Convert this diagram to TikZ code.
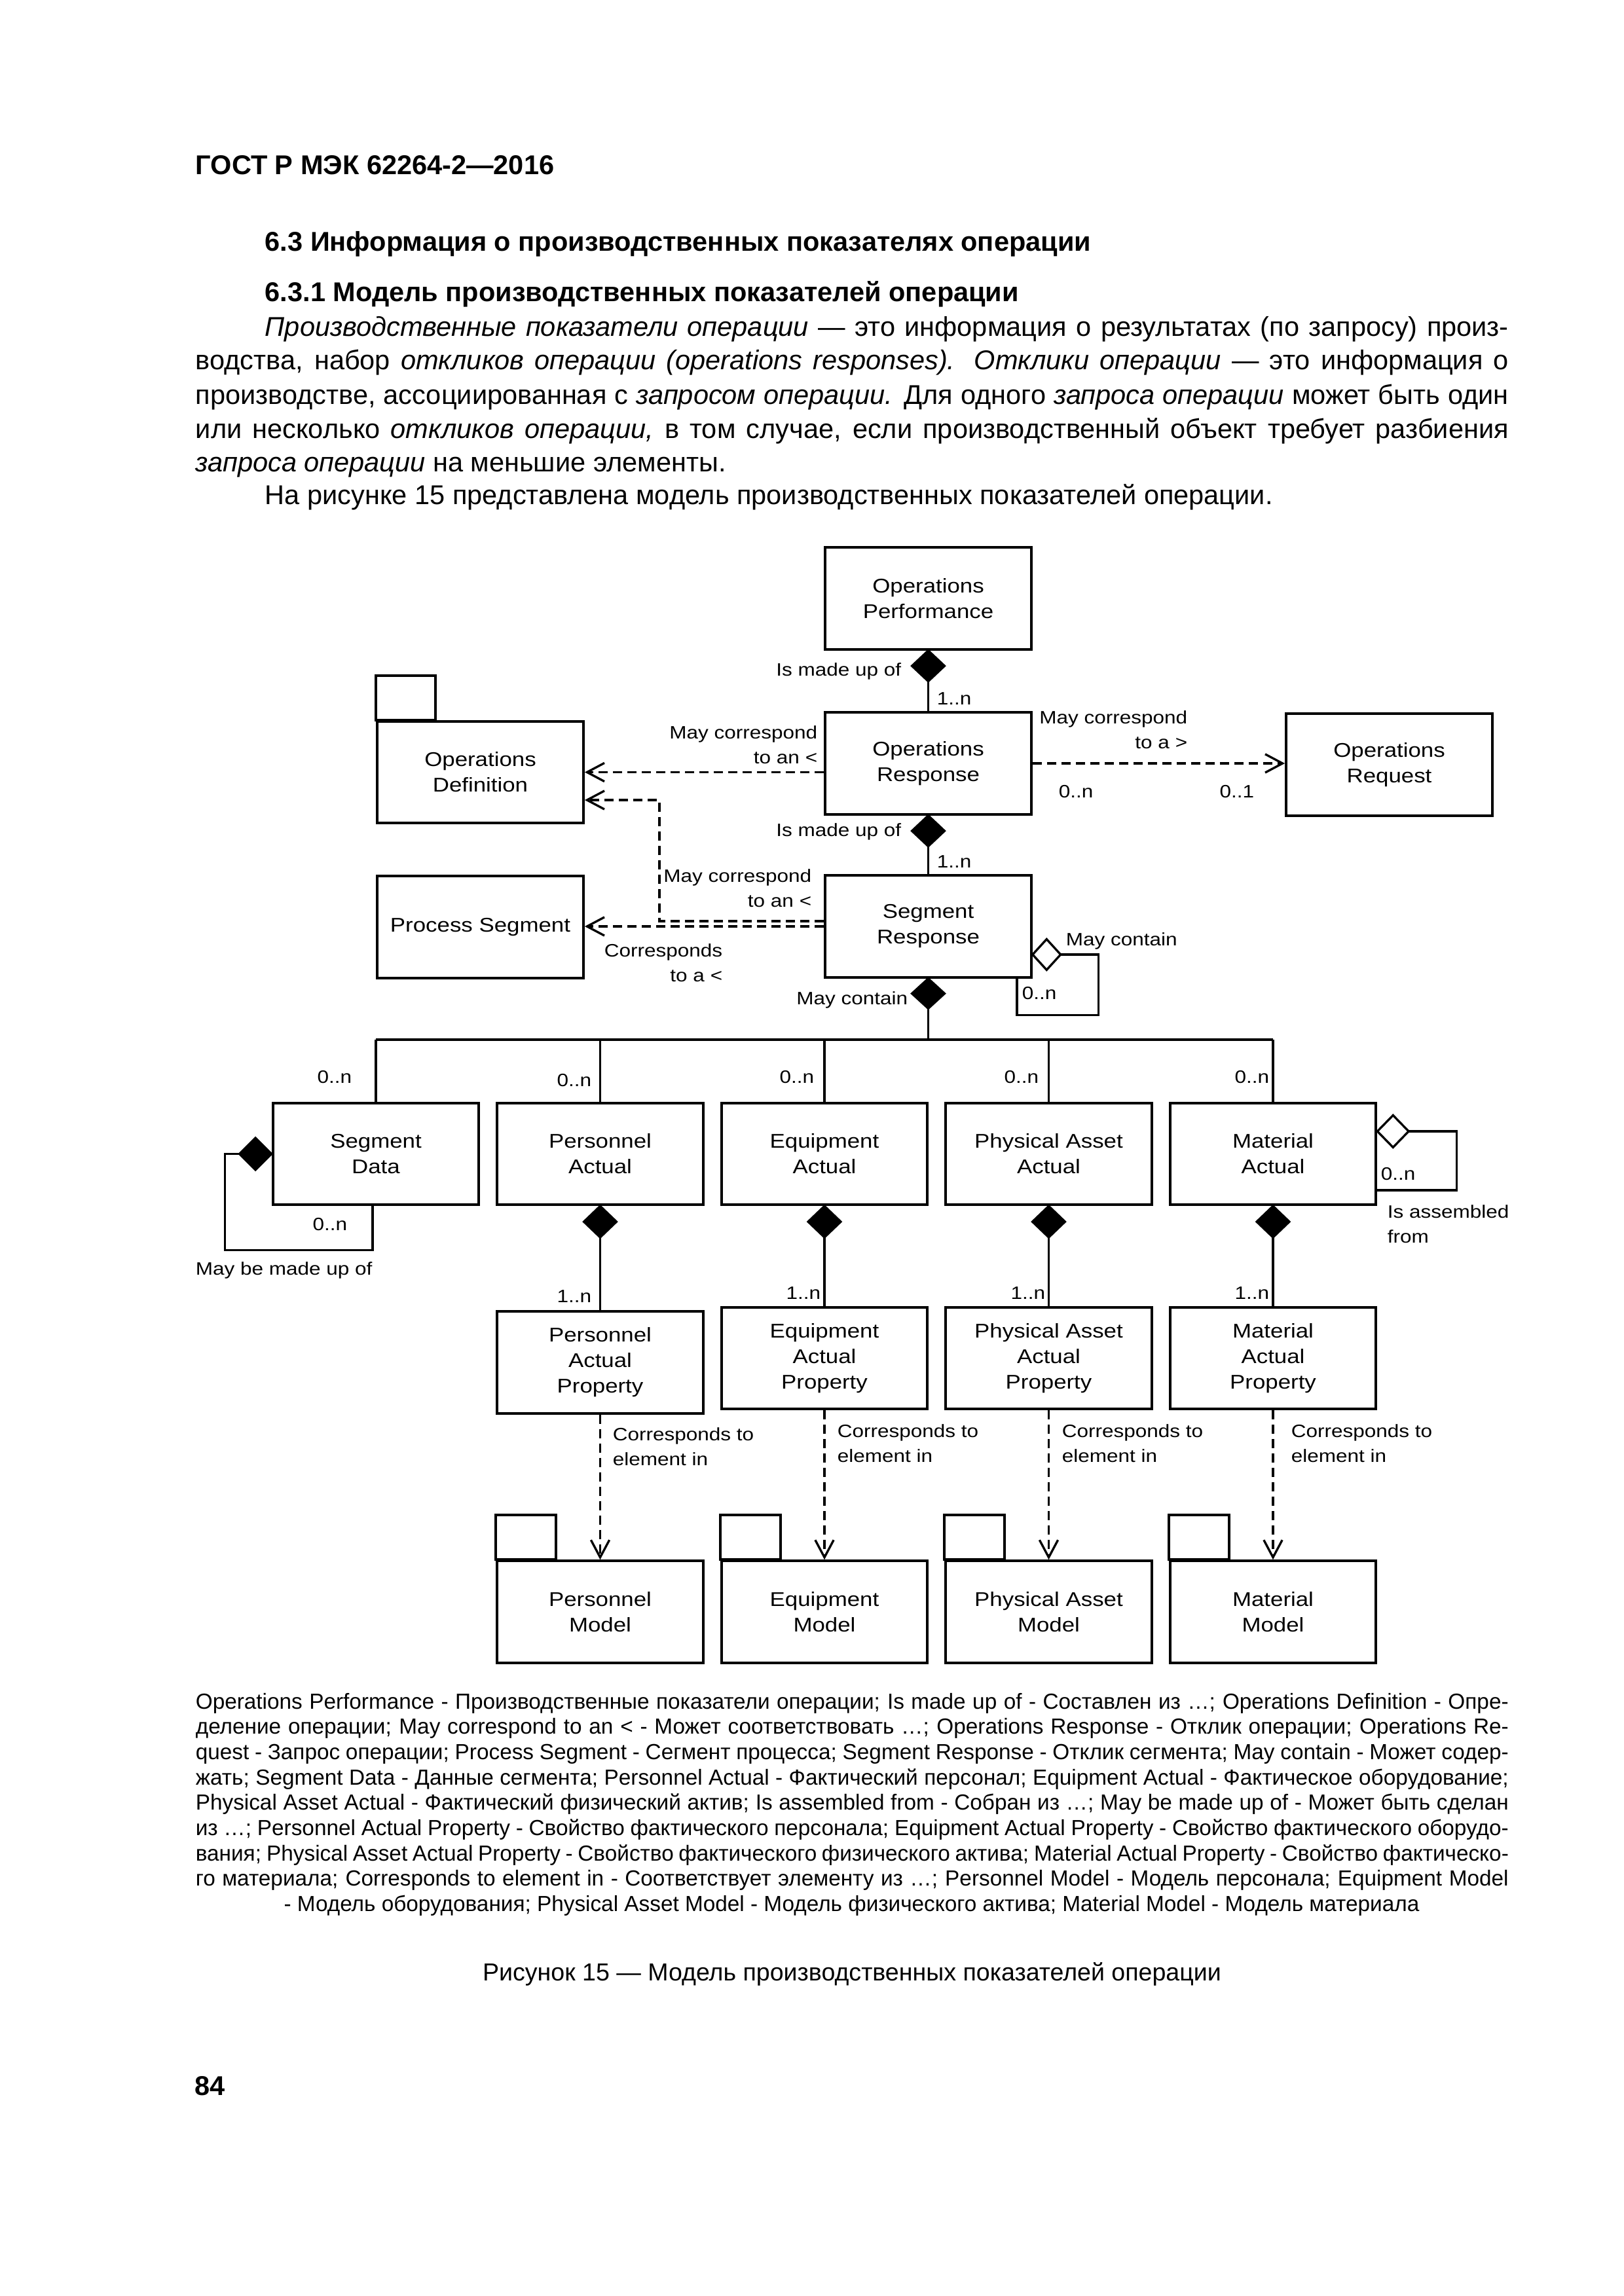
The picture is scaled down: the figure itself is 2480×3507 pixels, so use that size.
\documentclass[tikz,border=0pt]{standalone}
\usepackage{fontspec}
\setmainfont{Liberation Sans}
\newfontfamily\diagfont[FakeStretch=1.15]{Liberation Sans}
\usetikzlibrary{shapes.geometric,arrows.meta}
\newlength\PX \setlength\PX{0.084677mm}
\newcommand\boxfnt{\diagfont\fontsize{7.3pt}{9.4pt}\selectfont}
\newcommand\lblfnt{\diagfont\fontsize{6.6pt}{9.1pt}\selectfont}
\newcommand\bodyfnt{\fontsize{10pt}{12.5pt}\selectfont}
\newcommand\capfnt{\fontsize{9.05pt}{11pt}\selectfont}
\newcommand\legfnt{\fontsize{8.03pt}{9.4pt}\selectfont}
\begin{document}
\begin{tikzpicture}[x=0.084677mm, y=-0.084677mm,
  box/.style={draw, line width=1pt, minimum width=75.8pt, minimum height=37.4pt, inner sep=0pt, align=center, font=\boxfnt},
  tabline/.style={line width=1pt},
  lbl/.style={inner sep=0pt, font=\lblfnt},
  assoc/.style={line width=0.8pt},
  dep/.style={line width=0.8pt, dash pattern=on 3.4pt off 1.9pt, -{Straight Barb[length=6.4pt,width=6.8pt]}},
  fdia/.style={diamond, draw, fill=black, line width=0.8pt, inner sep=0pt, outer sep=0pt, minimum width=12pt, minimum height=11.3pt},
  odia/.style={fdia, fill=white},
  body/.style={anchor=base west, inner sep=0pt, font=\bodyfnt},
  leg/.style={anchor=base west, inner sep=0pt, font=\legfnt}]
\useasboundingbox (0,0) rectangle (2480,3507);

% ---------- page text ----------
\node[body] (hdr) at (298,266) {\bfseries ГОСТ Р МЭК 62264-2—2016};
\node[body] (h1) at (404,383) {\bfseries 6.3 Информация о производственных показателях операции};
\node[body] (h2) at (404,460) {\bfseries 6.3.1 Модель производственных показателей операции};
\node[body] (p1) at (404,513) {\makebox[1899\PX][s]{\textit{Производственные показатели операции} — это информация о результатах (по запросу) произ-}};
\node[body] (p2) at (298,564) {\makebox[2005\PX][s]{водства, набор \textit{откликов операции (operations responses). Отклики операции} — это информация о}};
\node[body] (p3) at (298,617) {\makebox[2005\PX][s]{производстве, ассоциированная с \textit{запросом операции.} Для одного \textit{запроса операции} может быть один}};
\node[body] (p4) at (298,669) {\makebox[2005\PX][s]{или несколько \textit{откликов операции,} в том случае, если производственный объект требует разбиения}};
\node[body] (p5) at (298,720) {\textit{запроса операции} на меньшие элементы.};
\node[body] (p6) at (404,770) {На рисунке 15 представлена модель производственных показателей операции.};

% ---------- diagram: top ----------
\node[box] (OP) at (1417.5,914) {Operations\\Performance};
\node[box] (OR) at (1417.5,1166) {Operations\\Response};
\node[box] (OQ) at (2121.5,1168) {Operations\\Request};
\node[box] (OD) at (733.5,1179.5) {Operations\\Definition};
\draw[tabline] (OD.north west) rectangle ++(91,-68);
\node[box] (PS) at (733.5,1416) {Process Segment};
\node[box] (SR) at (1417.5,1415) {Segment\\Response};

\node[fdia, anchor=north] (d1) at (OP.south) {};
\draw[assoc] (d1.south) -- (OR.north);
\node[fdia, anchor=north] (d2) at (OR.south) {};
\draw[assoc] (d2.south) -- (SR.north);

\draw[dep] (OR.west |- OD.east) -- (OD.east);
\draw[dep] (OR.east) -- (OR.east -| OQ.west);
\draw[dep] ([yshift=8*\PX]SR.west) -- ++(-251,0) |- ([yshift=-42.5*\PX]OD.east);
\draw[dep] (SR.west) -- (SR.west -| PS.east);

\node[odia, minimum width=10.3pt, minimum height=11.3pt, anchor=west] (d3) at ([yshift=-43*\PX]SR.east) {};
\draw[assoc] (d3.east) -- ++(58,0) |- ([xshift=135.5*\PX, yshift=-56*\PX]SR.south) -- ([xshift=135.5*\PX]SR.south);

\node[fdia, minimum height=11pt, anchor=north] (d4) at (SR.south) {};
\coordinate (bus) at (1417.5,1588);
\draw[assoc] (d4.south) -- (bus);

% labels top
\node[lbl, anchor=east] (t1) at (1377,1025) {Is made up of};
\node[lbl, anchor=west] (t2) at (1430,1067) {1..n};
\node[lbl, anchor=east] (t3) at (1377,1270) {Is made up of};
\node[lbl, anchor=west] (t4) at (1430,1316) {1..n};
\node[lbl, anchor=east, align=right] (t5) at (1249,1138) {May correspond\\to an <};
\node[lbl, anchor=east, align=right] (t6) at (1814,1114.5) {May correspond\\to a >};
\node[lbl, anchor=west] (t7) at (1616,1209) {0..n};
\node[lbl, anchor=east] (t8) at (1916,1209) {0..1};
\node[lbl, anchor=east, align=right] (t9) at (1240,1357) {May correspond\\to an <};
\node[lbl, anchor=east, align=right] (t10) at (1104,1471) {Corresponds\\to a <};
\node[lbl, anchor=west] (t11) at (1627,1437) {May contain};
\node[lbl, anchor=west] (t12) at (1560,1517) {0..n};
\node[lbl, anchor=east] (t13) at (1387,1527) {May contain};

% ---------- actual row ----------
\node[box] (SD) at (574,1762.5) {Segment\\Data};
\node[box] (PA) at (916.5,1762.5) {Personnel\\Actual};
\node[box] (EA) at (1259,1762.5) {Equipment\\Actual};
\node[box] (PAA) at (1601.5,1762.5) {Physical Asset\\Actual};
\node[box] (MA) at (1944,1762.5) {Material\\Actual};
\draw[assoc] (SD.north |- bus) -- (MA.north |- bus);
\foreach \n in {SD,PA,EA,PAA,MA} \draw[assoc] (\n.north |- bus) -- (\n.north);

\node[lbl, anchor=east] (m1) at (538,1645) {0..n};
\node[lbl, anchor=east] (m2) at (904,1650) {0..n};
\node[lbl, anchor=east] (m3) at (1244,1645) {0..n};
\node[lbl, anchor=east] (m4) at (1587,1645) {0..n};
\node[lbl, anchor=east] (m5) at (1939,1645) {0..n};

% Segment Data self loop
\node[fdia, minimum width=11.8pt, minimum height=11.8pt, anchor=east] (d5) at (SD.west) {};
\draw[assoc] (d5.west) -- ++(-22,0) |- ([xshift=-5*\PX, yshift=-67*\PX]SD.south) -- ([xshift=-5*\PX]SD.south);
\node[lbl, anchor=east] (m6) at (531,1870) {0..n};
\node[lbl, anchor=west] (m7) at (298,1940) {May be made up of};

% Material self loop
\node[odia, minimum width=11.5pt, minimum height=11.8pt, anchor=west] (d6) at ([yshift=34.5*\PX]MA.east) {};
\draw[assoc] (d6.east) -- ++(73,0) |- ([yshift=-55.5*\PX]MA.east);
\node[lbl, anchor=west] (m8) at (2108,1793) {0..n};
\node[lbl, anchor=west, align=left] (m9) at (2118,1870) {Is assembled\\from};

% ---------- properties ----------
\node[box] (PAP) at (916.5,2081) {Personnel\\Actual\\Property};
\node[box] (EAP) at (1259,2074.5) {Equipment\\Actual\\Property};
\node[box] (PAAP) at (1601.5,2074.5) {Physical Asset\\Actual\\Property};
\node[box] (MAP) at (1944,2074.5) {Material\\Actual\\Property};
\foreach \a/\p in {PA/PAP,EA/EAP,PAA/PAAP,MA/MAP} {
  \node[fdia, minimum height=11.5pt, anchor=north] (d\a) at (\a.south) {};
  \draw[assoc] (d\a.south) -- (\p.north);
}
\node[lbl, anchor=east] (n1) at (904,1980) {1..n};
\node[lbl, anchor=east] (n2) at (1254,1975) {1..n};
\node[lbl, anchor=east] (n3) at (1597,1975) {1..n};
\node[lbl, anchor=east] (n4) at (1939,1975) {1..n};

% ---------- models ----------
\node[box] (PM) at (916.5,2462) {Personnel\\Model};
\node[box] (EM) at (1259,2462) {Equipment\\Model};
\node[box] (PAM) at (1601.5,2462) {Physical Asset\\Model};
\node[box] (MM) at (1944,2462) {Material\\Model};
\foreach \m in {PM,EM,PAM,MM} \draw[tabline] (\m.north west) rectangle ++(92,-68);
\foreach \p/\m in {PAP/PM,EAP/EM,PAAP/PAM,MAP/MM} \draw[dep] (\p.south) -- (\m.north);
\node[lbl, anchor=west, align=left] (c1) at (935,2210) {Corresponds to\\element in};
\node[lbl, anchor=west, align=left] (c2) at (1278,2205) {Corresponds to\\element in};
\node[lbl, anchor=west, align=left] (c3) at (1621,2205) {Corresponds to\\element in};
\node[lbl, anchor=west, align=left] (c4) at (1971,2205) {Corresponds to\\element in};

% ---------- legend ----------
\node[leg] (l1) at (298,2610) {\makebox[2005\PX][s]{Operations Performance - Производственные показатели операции; Is made up of - Составлен из …; Operations Definition - Опре-}};
\node[leg] (l2) at (298,2648.7) {\makebox[2005\PX][s]{деление операции; May correspond to an < - Может соответствовать …; Operations Response - Отклик операции; Operations Re-}};
\node[leg] (l3) at (298,2687.4) {\makebox[2005\PX][s]{quest - Запрос операции; Process Segment - Сегмент процесса; Segment Response - Отклик сегмента; May contain - Может содер-}};
\node[leg] (l4) at (298,2726.1) {\makebox[2005\PX][s]{жать; Segment Data - Данные сегмента; Personnel Actual - Фактический персонал; Equipment Actual - Фактическое оборудование;}};
\node[leg] (l5) at (298,2764.8) {\makebox[2005\PX][s]{Physical Asset Actual - Фактический физический актив; Is assembled from - Собран из …; May be made up of - Может быть сделан}};
\node[leg] (l6) at (298,2803.5) {\makebox[2005\PX][s]{из …; Personnel Actual Property - Свойство фактического персонала; Equipment Actual Property - Свойство фактического оборудо-}};
\node[leg] (l7) at (298,2842.2) {\makebox[2005\PX][s]{вания; Physical Asset Actual Property - Свойство фактического физического актива; Material Actual Property - Свойство фактическо-}};
\node[leg] (l8) at (298,2880.9) {\makebox[2005\PX][s]{го материала; Corresponds to element in - Соответствует элементу из …; Personnel Model - Модель персонала; Equipment Model}};
\node[leg, anchor=base] (l9) at (1300.5,2919.6) {- Модель оборудования; Physical Asset Model - Модель физического актива; Material Model - Модель материала};

\node[body, anchor=base, font=\capfnt] (cap) at (1301,3025) {Рисунок 15 — Модель производственных показателей операции};
\node[body] (pg) at (297,3200) {\bfseries 84};
\end{tikzpicture}
\end{document}
